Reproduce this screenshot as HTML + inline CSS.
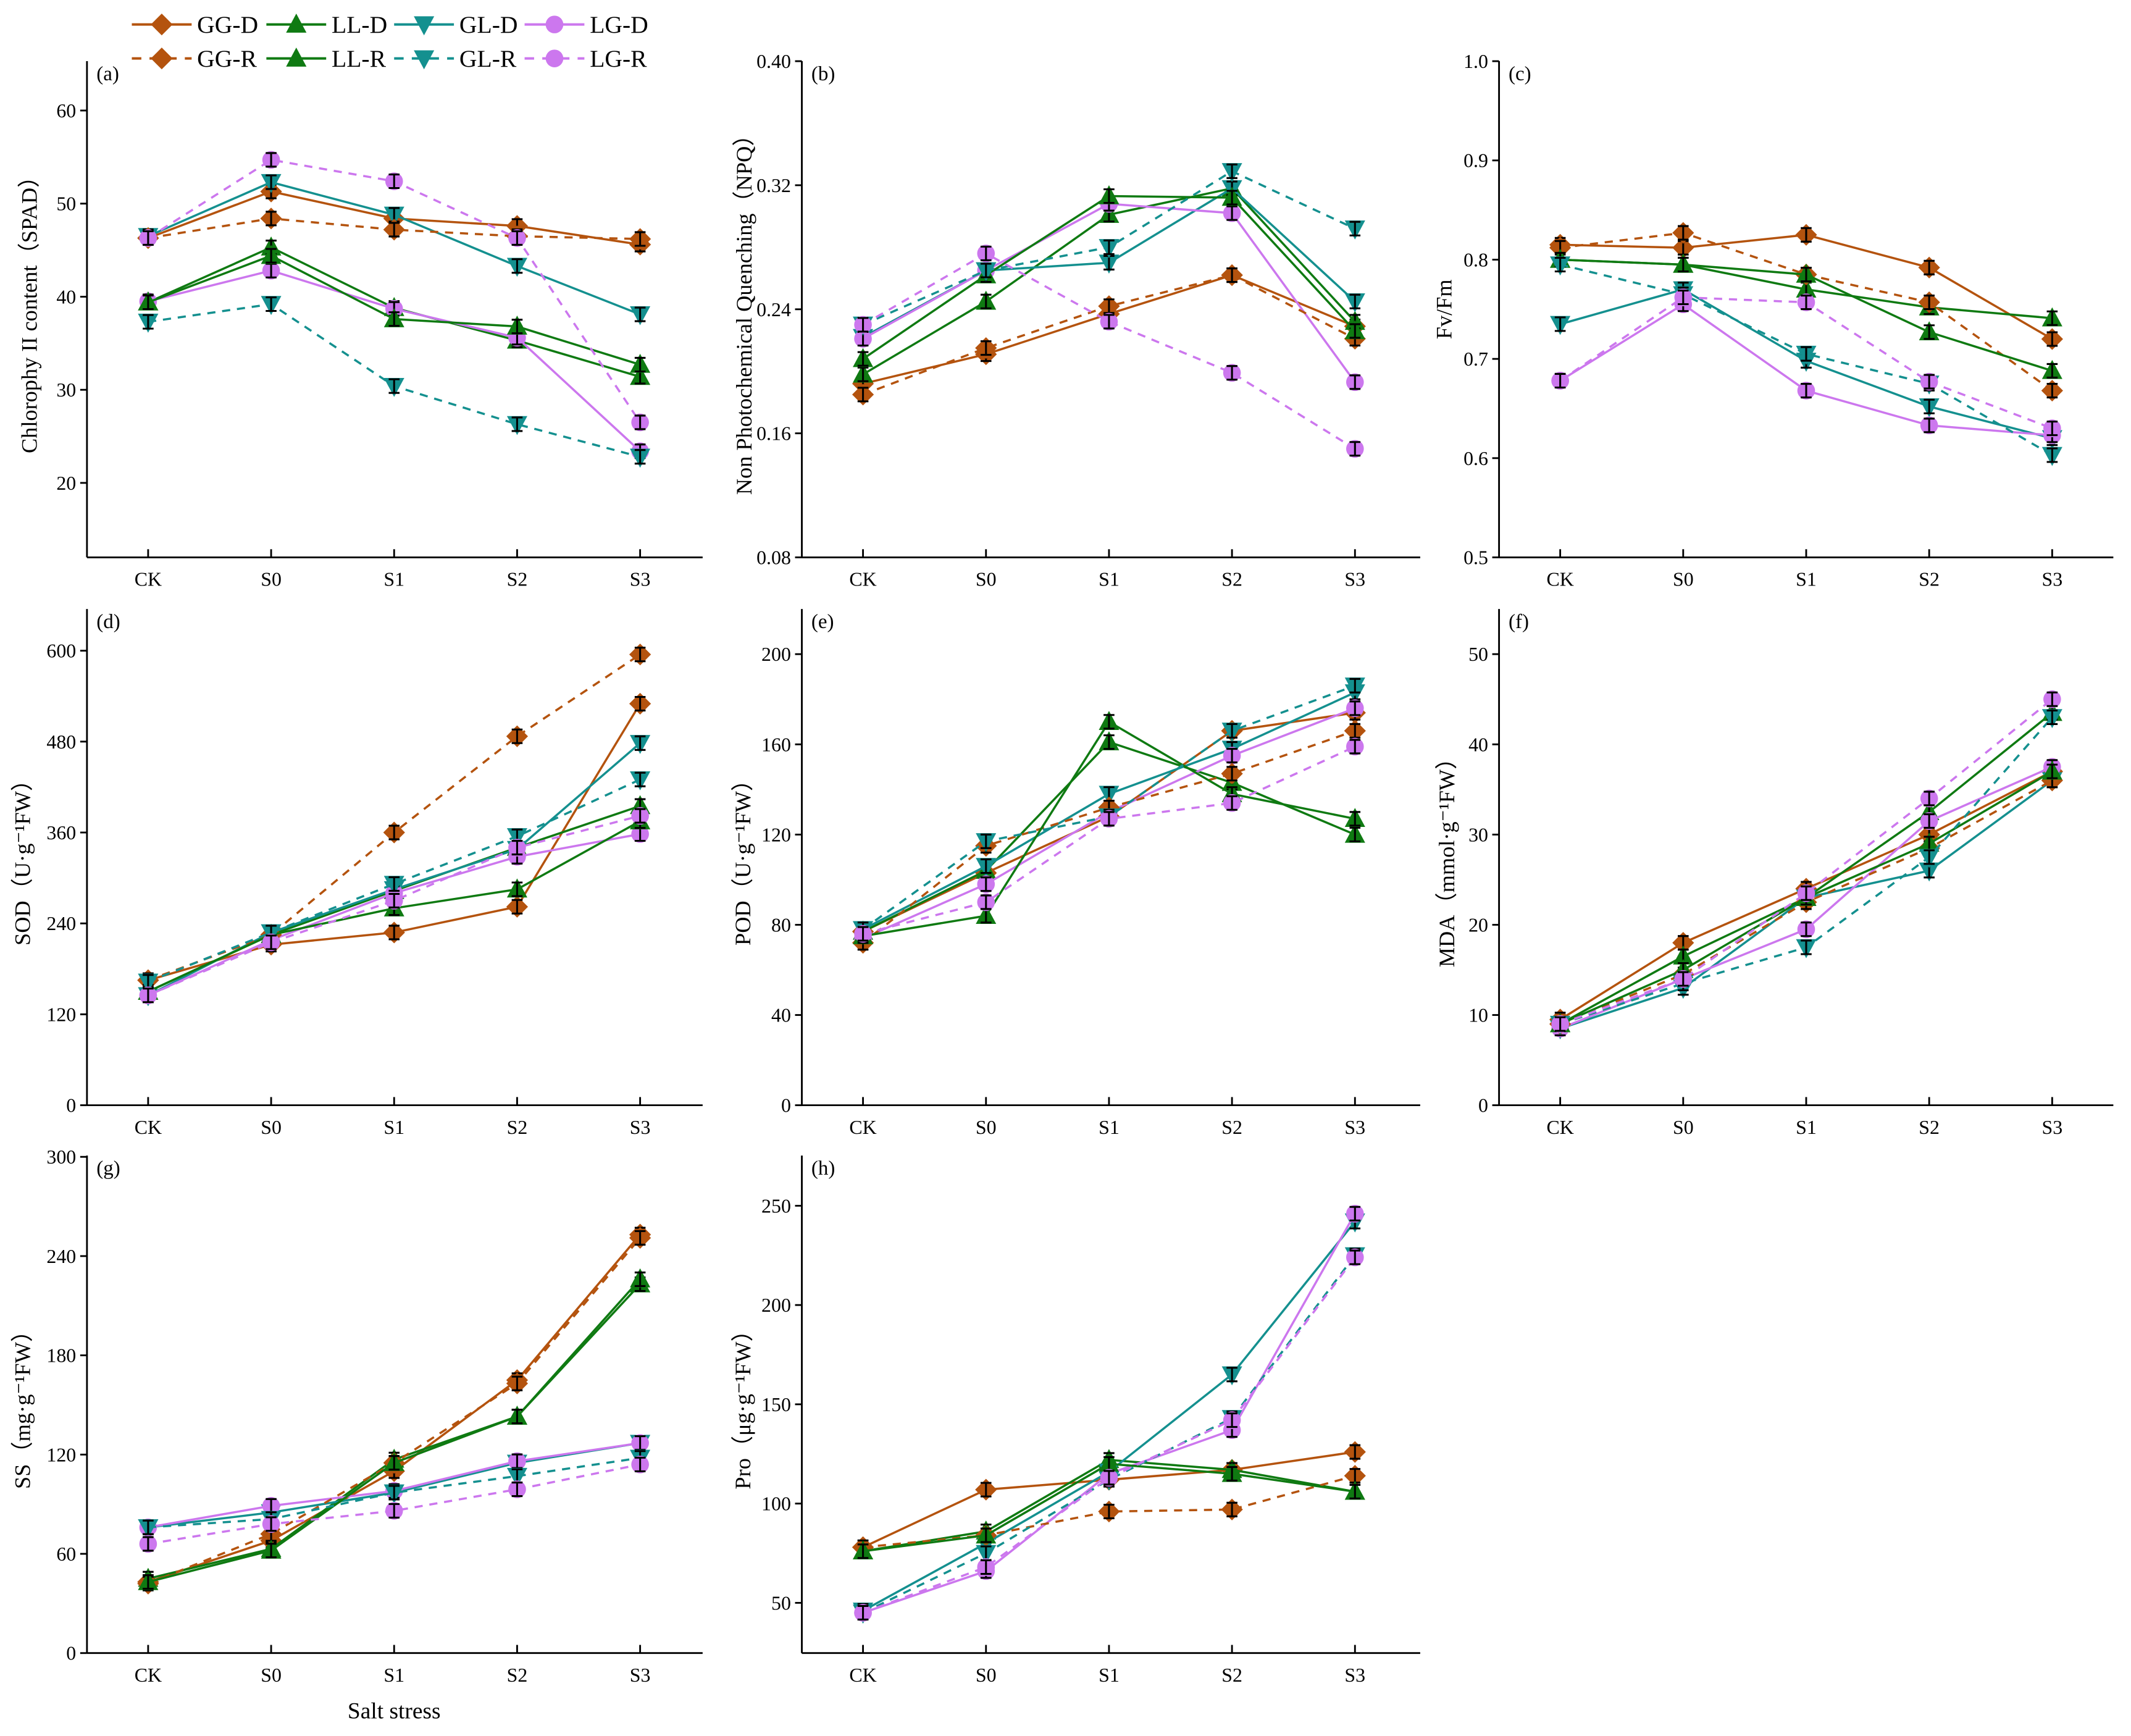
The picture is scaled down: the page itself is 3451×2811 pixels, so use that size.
<!DOCTYPE html>
<html><head><meta charset="utf-8">
<style>
html,body{margin:0;padding:0;background:#fff;}
svg{display:block;font-family:"Liberation Serif","DejaVu Serif",serif;}
</style></head>
<body>
<svg id="chart" width="3451" height="2811" viewBox="0 0 1568 1277" preserveAspectRatio="none" xmlns="http://www.w3.org/2000/svg">
<rect x="0" y="0" width="1568" height="1277" fill="#fff"/>
<g id="legend"></g>
<g id="panels"></g>
<text x="290" y="1264" font-size="17" text-anchor="middle">Salt stress</text>
</svg>
<script>
const categories = ["CK","S0","S1","S2","S3"];
const seriesNames = ["GG-D","LL-D","GL-D","LG-D","GG-R","LL-R","GL-R","LG-R"];

const spadGGD=[46.3,51.3,48.4,47.6,45.6], spadGGR=[46.3,48.4,47.2,46.5,46.2];
const spadLLD=[39.4,45.3,38.8,35.3,31.4], spadLLR=[39.4,44.4,37.6,36.8,32.7];
const spadGLD=[46.5,52.3,48.8,43.3,38.1], spadGLR=[37.3,39.2,30.4,26.3,22.8];
const spadLGD=[39.5,42.8,38.7,35.6,23.4], spadLGR=[46.3,54.7,52.4,46.3,26.5];

const npqGGD=[0.192,0.211,0.237,0.262,0.229], npqGGR=[0.185,0.215,0.242,0.262,0.221];
const npqLLD=[0.198,0.245,0.301,0.318,0.232], npqLLR=[0.208,0.262,0.313,0.312,0.226];
const npqGLD=[0.222,0.265,0.270,0.318,0.245], npqGLR=[0.230,0.265,0.280,0.329,0.292];
const npqLGD=[0.221,0.265,0.308,0.302,0.193], npqLGR=[0.230,0.276,0.232,0.199,0.150];

const fvGGD=[0.815,0.812,0.825,0.792,0.720], fvGGR=[0.812,0.827,0.785,0.757,0.668];
const fvLLD=[0.800,0.795,0.770,0.752,0.741], fvLLR=[0.800,0.795,0.785,0.727,0.688];
const fvGLD=[0.735,0.770,0.698,0.652,0.620], fvGLR=[0.795,0.765,0.705,0.675,0.603];
const fvLGD=[0.678,0.755,0.668,0.633,0.623], fvLGR=[0.678,0.762,0.757,0.677,0.630];

const sodGGD=[165,212,228,262,530], sodGGR=[165,225,360,487,595];
const sodLLD=[150,225,283,340,395], sodLLR=[150,225,260,285,375];
const sodGLD=[145,228,285,338,478], sodGLR=[163,228,292,355,430];
const sodLGD=[145,218,280,328,358], sodLGR=[145,215,270,340,382];

const podGGD=[77,103,128,166,174], podGGR=[72,115,132,147,166];
const podLLD=[77,104,161,143,120], podLLR=[75,84,170,138,127];
const podGLD=[78,106,138,158,183], podGLR=[78,117,128,166,186];
const podLGD=[74,98,130,155,176], podLGR=[76,90,127,134,159];

const mdaGGD=[9.5,18.0,24.0,30.0,37.0], mdaGGR=[9.0,14.5,22.5,28.5,36.0];
const mdaLLD=[9.0,16.5,23.0,32.5,43.5], mdaLLR=[9.0,15.0,23.0,29.0,37.0];
const mdaGLD=[8.5,13.0,23.0,26.0,36.0], mdaGLR=[9.0,13.5,17.5,27.5,43.0];
const mdaLGD=[8.5,14.0,19.5,31.5,37.5], mdaLGR=[9.0,14.0,23.5,34.0,45.0];

const ssGGD=[43,68,110,165,253], ssGGR=[42,72,115,163,251];
const ssLLD=[45,63,117,143,223], ssLLR=[43,62,115,143,226];
const ssGLD=[76,85,97,115,127], ssGLR=[76,81,97,107,118];
const ssLGD=[76,89,98,116,127], ssLGR=[66,78,86,99,114];

const proGGD=[78,107,112,117,126], proGGR=[78,84,96,97,114];
const proLLD=[76,86,122,117,106], proLLR=[76,84,120,115,106];
const proGLD=[46,80,116,165,242], proGLR=[45,75,112,143,225];
const proLGD=[45,66,115,137,246], proLGR=[45,68,113,142,224];

const ticksA=[20,30,40,50,60], ticksB=[0.08,0.16,0.24,0.32,0.40], ticksC=[0.5,0.6,0.7,0.8,0.9,1.0];
const ticksD=[0,120,240,360,480,600], ticksE=[0,40,80,120,160,200], ticksF=[0,10,20,30,40,50];
const ticksG=[0,60,120,180,240,300], ticksH=[50,100,150,200,250];

const NS="http://www.w3.org/2000/svg";
const styles={
 "GG-D":{c:"#b4530e",dash:false,m:"diamond"},"GG-R":{c:"#b4530e",dash:true,m:"diamond"},
 "LL-D":{c:"#0f7a12",dash:false,m:"up"},"LL-R":{c:"#0f7a12",dash:false,m:"up"},
 "GL-D":{c:"#14908f",dash:false,m:"down"},"GL-R":{c:"#14908f",dash:true,m:"down"},
 "LG-D":{c:"#cc77ee",dash:false,m:"circle"},"LG-R":{c:"#cc77ee",dash:true,m:"circle"}};

function mk(tag,attrs,parent){const e=document.createElementNS(NS,tag);for(const k in attrs)e.setAttribute(k,attrs[k]);if(parent)parent.appendChild(e);return e;}

function marker(g,type,x,y,color){
  let e;
  if(type==="diamond") e=mk("polygon",{points:`${x},${y-8} ${x+8},${y} ${x},${y+8} ${x-8},${y}`,fill:color},g);
  else if(type==="up") e=mk("polygon",{points:`${x},${y-8} ${x+7.5},${y+6} ${x-7.5},${y+6}`,fill:color},g);
  else if(type==="down") e=mk("polygon",{points:`${x},${y+8} ${x+7.5},${y-6} ${x-7.5},${y-6}`,fill:color},g);
  else e=mk("circle",{cx:x,cy:y,r:6.5,fill:color},g);
  return e;
}

const panelsG=document.getElementById("panels");
const panels=[
 {id:"a",ax:64,right:517,top:45,bottom:410,ymin:12,ymax:65.3,ticks:ticksA,fmt:v=>String(v),ylab:"Chlorophy II content（SPAD）",lx:27,
  data:{"GG-D":spadGGD,"GG-R":spadGGR,"LL-D":spadLLD,"LL-R":spadLLR,"GL-D":spadGLD,"GL-R":spadGLR,"LG-D":spadLGD,"LG-R":spadLGR}},
 {id:"b",ax:590,right:1045,top:45,bottom:410,ymin:0.08,ymax:0.40,ticks:ticksB,fmt:v=>v.toFixed(2),ylab:"Non Photochemical Quenching（NPQ）",lx:553,
  data:{"GG-D":npqGGD,"GG-R":npqGGR,"LL-D":npqLLD,"LL-R":npqLLR,"GL-D":npqGLD,"GL-R":npqGLR,"LG-D":npqLGD,"LG-R":npqLGR}},
 {id:"c",ax:1103,right:1555,top:45,bottom:410,ymin:0.5,ymax:1.0,ticks:ticksC,fmt:v=>v.toFixed(1),ylab:"Fv/Fm",lx:1068,
  data:{"GG-D":fvGGD,"GG-R":fvGGR,"LL-D":fvLLD,"LL-R":fvLLR,"GL-D":fvGLD,"GL-R":fvGLR,"LG-D":fvLGD,"LG-R":fvLGR}},
 {id:"d",ax:64,right:517,top:448,bottom:813,ymin:0,ymax:655,ticks:ticksD,fmt:v=>String(v),ylab:"SOD（U·g⁻¹FW）",lx:22,
  data:{"GG-D":sodGGD,"GG-R":sodGGR,"LL-D":sodLLD,"LL-R":sodLLR,"GL-D":sodGLD,"GL-R":sodGLR,"LG-D":sodLGD,"LG-R":sodLGR}},
 {id:"e",ax:590,right:1045,top:448,bottom:813,ymin:0,ymax:220,ticks:ticksE,fmt:v=>String(v),ylab:"POD（U·g⁻¹FW）",lx:552,
  data:{"GG-D":podGGD,"GG-R":podGGR,"LL-D":podLLD,"LL-R":podLLR,"GL-D":podGLD,"GL-R":podGLR,"LG-D":podLGD,"LG-R":podLGR}},
 {id:"f",ax:1103,right:1555,top:448,bottom:813,ymin:0,ymax:55,ticks:ticksF,fmt:v=>String(v),ylab:"MDA（mmol·g⁻¹FW）",lx:1070,
  data:{"GG-D":mdaGGD,"GG-R":mdaGGR,"LL-D":mdaLLD,"LL-R":mdaLLR,"GL-D":mdaGLD,"GL-R":mdaGLR,"LG-D":mdaLGD,"LG-R":mdaLGR}},
 {id:"g",ax:64,right:517,top:850,bottom:1216,ymin:0,ymax:300.8,ticks:ticksG,fmt:v=>String(v),ylab:"SS（mg·g⁻¹FW）",lx:22,
  data:{"GG-D":ssGGD,"GG-R":ssGGR,"LL-D":ssLLD,"LL-R":ssLLR,"GL-D":ssGLD,"GL-R":ssGLR,"LG-D":ssLGD,"LG-R":ssLGR}},
 {id:"h",ax:590,right:1045,top:850,bottom:1216,ymin:24.7,ymax:275.3,ticks:ticksH,fmt:v=>String(v),ylab:"Pro（μg·g⁻¹FW）",lx:552,
  data:{"GG-D":proGGD,"GG-R":proGGR,"LL-D":proLLD,"LL-R":proLLR,"GL-D":proGLD,"GL-R":proGLR,"LG-D":proLGD,"LG-R":proLGR}}
];

panels.forEach(p=>{
  const g=mk("g",{},panelsG);
  
  
  const xs=i=>p.ax+45+i*90.5;
  const ys=v=>p.bottom-(v-p.ymin)/(p.ymax-p.ymin)*(p.bottom-p.top);
  const ya=mk("line",{x1:p.ax,y1:p.top,x2:p.ax,y2:p.bottom,stroke:"#000","stroke-width":1.3},g);
  
  
  const xa=mk("line",{x1:p.ax,y1:p.bottom,x2:p.right,y2:p.bottom,stroke:"#000","stroke-width":1.3},g);
  
  
  p.ticks.forEach(t=>{
    const y=ys(t);
    mk("line",{x1:p.ax-5,y1:y,x2:p.ax,y2:y,stroke:"#000","stroke-width":1.3},g);
    const tl=mk("text",{x:p.ax-8,y:y+5,"font-size":14.5,"text-anchor":"end"},g);
    tl.textContent=p.fmt(t);
    
    
  });
  categories.forEach((c,i)=>{
    const x=xs(i);
    mk("line",{x1:x,y1:p.bottom-6,x2:x,y2:p.bottom,stroke:"#000","stroke-width":1.3},g);
    const tl=mk("text",{x:x,y:p.bottom+21,"font-size":14.5,"text-anchor":"middle"},g);
    tl.textContent=c;
    
    
  });
  const pl=mk("text",{x:p.ax+7,y:p.top+14,"font-size":15},g);
  pl.textContent="("+p.id+")";
  
  
  const cy=(p.top+p.bottom)/2;
  const yl=mk("text",{x:p.lx,y:cy,"font-size":16.5,"text-anchor":"middle",transform:`rotate(-90 ${p.lx} ${cy})`},g);
  yl.textContent=p.ylab;
  
  
  seriesNames.forEach(n=>{
    const st=styles[n], vals=p.data[n];
    const sg=mk("g",{},g);
    
    
    const pts=vals.map((v,i)=>xs(i)+","+ys(v)).join(" ");
    const attrs={points:pts,fill:"none",stroke:st.c,"stroke-width":1.6};
    if(st.dash) attrs["stroke-dasharray"]="6,5";
    mk("polyline",attrs,sg);
    vals.forEach((v,i)=>{
      const x=xs(i),y=ys(v);
      const m=marker(sg,st.m,x,y,st.c);
      
      
      mk("path",{d:`M${x},${y-5}V${y+5}M${x-4},${y-5}H${x+4}M${x-4},${y+5}H${x+4}`,stroke:"#000","stroke-width":1.4,fill:"none"},sg);
    });
  });
});

const lg=document.getElementById("legend");
const legendPos=[[97,18],[196,18],[290,18],[386,18],[97,43],[196,43],[290,43],[386,43]];
const legendOrder=["GG-D","LL-D","GL-D","LG-D","GG-R","LL-R","GL-R","LG-R"];
legendOrder.forEach((n,i)=>{
  const st=styles[n];const [x,y]=legendPos[i];
  const eg=mk("g",{},lg);
  
  
  const a={x1:x,y1:y,x2:x+44,y2:y,stroke:st.c,"stroke-width":1.8};
  if(st.dash)a["stroke-dasharray"]="7,6";
  mk("line",a,eg);
  marker(eg,st.m,x+22,y,st.c);
  const t=mk("text",{x:x+48,y:y+6,"font-size":18},eg);
  t.textContent=n;
});
</script>
</body></html>
